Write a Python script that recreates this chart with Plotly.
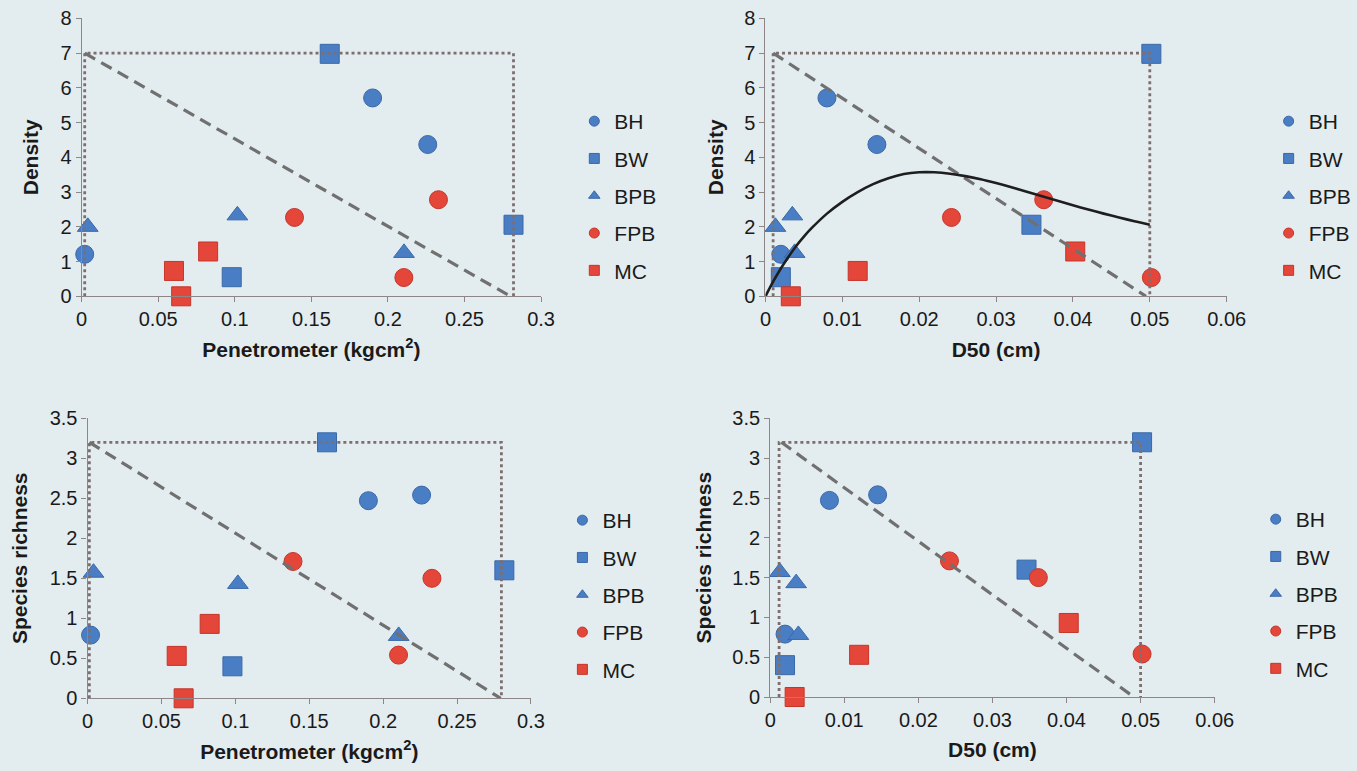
import plotly.graph_objects as go

# ---------------- data ----------------
categories = ["BH", "BW", "BPB", "FPB", "MC"]

BH_pen = [0.002, 0.190, 0.226]
BH_d50 = [0.0020, 0.0080, 0.0145]
BH_density = [1.21, 5.71, 4.37]
BH_richness = [0.79, 2.47, 2.54]

BW_pen = [0.162, 0.282, 0.098]
BW_d50 = [0.0502, 0.0346, 0.0020]
BW_density = [6.98, 2.06, 0.55]
BW_richness = [3.20, 1.60, 0.40]

BPB_pen = [0.004, 0.1017, 0.2105]
BPB_d50 = [0.0013, 0.0035, 0.0038]
BPB_density = [2.00, 2.33, 1.25]
BPB_richness = [1.57, 1.43, 0.78]

FPB_pen = [0.139, 0.233, 0.2104]
FPB_d50 = [0.0242, 0.0362, 0.0502]
FPB_density = [2.27, 2.78, 0.54]
FPB_richness = [1.71, 1.50, 0.54]

MC_pen = [0.0826, 0.0603, 0.065]
MC_d50 = [0.0403, 0.0120, 0.0033]
MC_density = [1.29, 0.73, 0.0]
MC_richness = [0.93, 0.53, 0.0]

# reference boxes (dotted) and diagonal (dashed) lines
p1_box_x = [0.002, 0.002, 0.282, 0.282]
p1_box_y = [0, 7, 7, 0]
p1_diag_x = [0.002, 0.280]
p1_diag_y = [7, 0]

p2_box_x = [0.001, 0.001, 0.050, 0.050]
p2_box_y = [0, 7, 7, 0]
p2_diag_x = [0.001, 0.0495]
p2_diag_y = [7, 0]

p3_box_x = [0.0012, 0.0012, 0.280, 0.280]
p3_box_y = [0, 3.2, 3.2, 0]
p3_diag_x = [0.0012, 0.2795]
p3_diag_y = [3.2, 0]

p4_box_x = [0.0012, 0.0012, 0.050, 0.050]
p4_box_y = [0, 3.2, 3.2, 0]
p4_diag_x = [0.0015, 0.0491]
p4_diag_y = [3.2, 0]

# fitted curve in density vs D50 panel
fit_d50 = [0.0, 0.001, 0.002, 0.003, 0.004, 0.005, 0.006, 0.008, 0.010, 0.012,
           0.014, 0.016, 0.018, 0.020, 0.022, 0.024, 0.026, 0.028, 0.030, 0.032,
           0.034, 0.036, 0.038, 0.040, 0.042, 0.044, 0.046, 0.048, 0.050]
fit_density = [0.0, 0.42, 0.80, 1.14, 1.45, 1.72, 1.96, 2.38, 2.72, 3.00,
               3.23, 3.40, 3.52, 3.57, 3.57, 3.53, 3.46, 3.37, 3.26, 3.14,
               3.01, 2.88, 2.75, 2.62, 2.50, 2.38, 2.27, 2.16, 2.06]

pen_ticks = [0, 0.05, 0.1, 0.15, 0.2, 0.25, 0.3]
d50_ticks = [0, 0.01, 0.02, 0.03, 0.04, 0.05, 0.06]
density_ticks = [0, 1, 2, 3, 4, 5, 6, 7, 8]
richness_ticks = [0, 0.5, 1, 1.5, 2, 2.5, 3, 3.5]

# ---------------- styling ----------------
BLUE = "#4A7EC4"
BLUE_EDGE = "#3A68A8"
RED = "#E5463A"
RED_EDGE = "#C5352A"
BG = "#E3ECEF"
FONT = "Liberation Sans, Arial, sans-serif"

style = {
    "BH": dict(symbol="circle", color=BLUE, edge=BLUE_EDGE, size=18),
    "BW": dict(symbol="square", color=BLUE, edge=BLUE_EDGE, size=19),
    "BPB": dict(symbol="triangle-up", color=BLUE, edge=BLUE_EDGE, size=18),
    "FPB": dict(symbol="circle", color=RED, edge=RED_EDGE, size=18),
    "MC": dict(symbol="square", color=RED, edge=RED_EDGE, size=19),
}

pen = {"BH": BH_pen, "BW": BW_pen, "BPB": BPB_pen, "FPB": FPB_pen, "MC": MC_pen}
d50 = {"BH": BH_d50, "BW": BW_d50, "BPB": BPB_d50, "FPB": FPB_d50, "MC": MC_d50}
dens = {"BH": BH_density, "BW": BW_density, "BPB": BPB_density, "FPB": FPB_density, "MC": MC_density}
rich = {"BH": BH_richness, "BW": BW_richness, "BPB": BPB_richness, "FPB": FPB_richness, "MC": MC_richness}

W, H = 1357, 771

fig = go.Figure()

panels = [
    ("x", "y", pen, dens, "legend", (p1_box_x, p1_box_y), (p1_diag_x, p1_diag_y)),
    ("x2", "y2", d50, dens, "legend2", (p2_box_x, p2_box_y), (p2_diag_x, p2_diag_y)),
    ("x3", "y3", pen, rich, "legend3", (p3_box_x, p3_box_y), (p3_diag_x, p3_diag_y)),
    ("x4", "y4", d50, rich, "legend4", (p4_box_x, p4_box_y), (p4_diag_x, p4_diag_y)),
]

for xa, ya, xd, yd, lg, box, diag in panels:
    for c in categories:
        s = style[c]
        fig.add_trace(go.Scatter(
            x=xd[c], y=yd[c], mode="markers", xaxis=xa, yaxis=ya, name=c,
            marker=dict(symbol=s["symbol"], size=s["size"], color=s["color"],
                        line=dict(color=s["edge"], width=1)),
            showlegend=False, cliponaxis=False,
        ))
    # legend entries with small symbols
    for c in categories:
        s = style[c]
        fig.add_trace(go.Scatter(
            x=[None], y=[None], mode="markers", xaxis=xa, yaxis=ya, name=c,
            marker=dict(symbol=s["symbol"], size=10, color=s["color"],
                        line=dict(color=s["edge"], width=1)),
            legend=lg, legendgroup=lg + c, showlegend=True,
        ))
    fig.add_trace(go.Scatter(
        x=box[0], y=box[1], mode="lines", xaxis=xa, yaxis=ya,
        line=dict(color="#7E6E6E", width=2.8, dash="dot"),
        showlegend=False, cliponaxis=False, hoverinfo="skip",
    ))
    fig.add_trace(go.Scatter(
        x=diag[0], y=diag[1], mode="lines", xaxis=xa, yaxis=ya,
        line=dict(color="#707070", width=3.2, dash="12px,7px"),
        showlegend=False, cliponaxis=False, hoverinfo="skip",
    ))
    if xa == "x2":
        fig.add_trace(go.Scatter(
            x=fit_d50, y=fit_density, mode="lines", xaxis=xa, yaxis=ya,
            line=dict(color="#1E1E1E", width=2.6, shape="spline", smoothing=0.8),
            showlegend=False, cliponaxis=False, hoverinfo="skip",
        ))


def px_x(a, b):
    return [a / W, b / W]


def px_y(top, bottom):
    return [(H - bottom) / H, (H - top) / H]


axis_common = dict(
    showgrid=False, zeroline=False, showline=True, linecolor="#8E8686", linewidth=1.2,
    ticks="outside", ticklen=5, tickcolor="#8E8686", tickwidth=1.2,
    tickfont=dict(family=FONT, size=20, color="#1A1A1A"),
    title_font=dict(family=FONT, size=21, color="#1A1A1A"),
    fixedrange=True, automargin=False,
)

fig.update_layout(
    width=W, height=H, autosize=False,
    margin=dict(l=0, r=0, t=0, b=0),
    paper_bgcolor=BG, plot_bgcolor=BG,
    font=dict(family=FONT, size=20, color="#1A1A1A"),
    xaxis=dict(domain=px_x(82.3, 545.5), range=[0, 0.3], tickvals=pen_ticks, anchor="y",
               title=dict(text="<b>Penetrometer (kgcm<sup>2</sup>)</b>", standoff=12), **axis_common),
    yaxis=dict(domain=px_y(18.4, 296.3), range=[0, 8], tickvals=density_ticks, anchor="x",
               title=dict(text="<b>Density</b>", standoff=16), **axis_common),
    xaxis2=dict(domain=px_x(771.7, 1236.7), range=[0, 0.06], tickvals=d50_ticks, anchor="y2",
                title=dict(text="<b>D50 (cm)</b>", standoff=12), **axis_common),
    yaxis2=dict(domain=px_y(18.4, 296.3), range=[0, 8], tickvals=density_ticks, anchor="x2",
                title=dict(text="<b>Density</b>", standoff=14), **axis_common),
    xaxis3=dict(domain=px_x(88.3, 535.3), range=[0, 0.3], tickvals=pen_ticks, anchor="y3",
                title=dict(text="<b>Penetrometer (kgcm<sup>2</sup>)</b>", standoff=12), **axis_common),
    yaxis3=dict(domain=px_y(418.3, 698.3), range=[0, 3.5], tickvals=richness_ticks, anchor="x3",
                title=dict(text="<b>Species richness</b>", standoff=16), **axis_common),
    xaxis4=dict(domain=px_x(776.5, 1224.6), range=[0, 0.06], tickvals=d50_ticks, anchor="y4",
                title=dict(text="<b>D50 (cm)</b>", standoff=12), **axis_common),
    yaxis4=dict(domain=px_y(418.4, 697.0), range=[0, 3.5], tickvals=richness_ticks, anchor="x4",
                title=dict(text="<b>Species richness</b>", standoff=14), **axis_common),
)

legend_common = dict(
    xanchor="left", yanchor="top", bgcolor="rgba(0,0,0,0)", borderwidth=0,
    font=dict(family=FONT, size=21, color="#1A1A1A"),
    tracegroupgap=7, itemwidth=30,
)
fig.update_layout(
    legend=dict(x=579 / W, y=(H - 101) / H, **legend_common),
    legend2=dict(x=1279 / W, y=(H - 101) / H, **legend_common),
    legend3=dict(x=567 / W, y=(H - 500) / H, **legend_common),
    legend4=dict(x=1266 / W, y=(H - 499) / H, **legend_common),
)

fig.write_html(
    "out.html",
    config={"responsive": False, "displayModeBar": False},
    post_script="document.body.style.margin='0';document.body.style.overflow='hidden';",
)
